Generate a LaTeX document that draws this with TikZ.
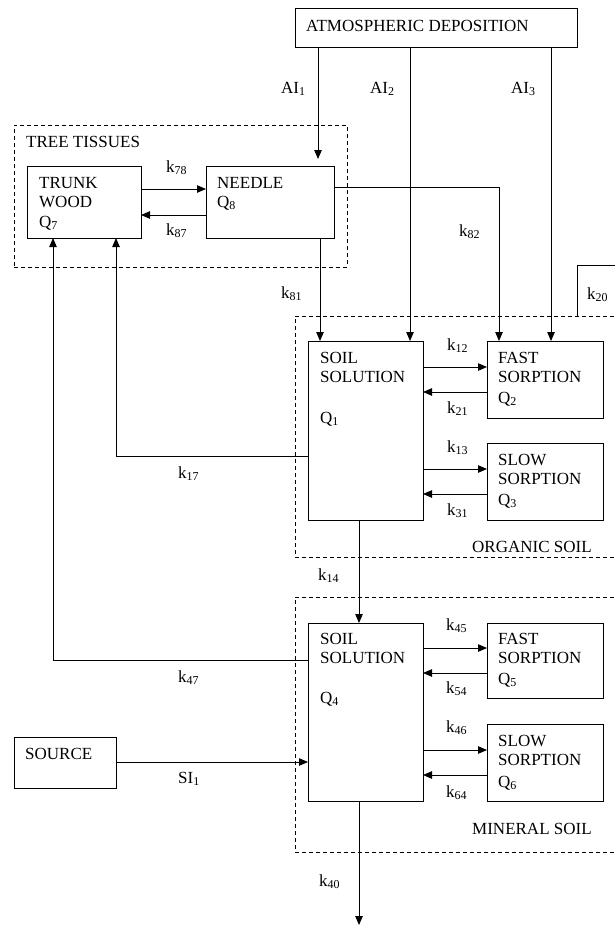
\documentclass[tikz,border=0pt]{standalone}
\usepackage{fontspec}
\setmainfont{Liberation Serif}
\usetikzlibrary{arrows.meta,calc}
\newcommand{\sbx}[1]{\raisebox{-2pt}{\fontsize{12}{12}\selectfont #1}}
\begin{document}
\begin{tikzpicture}[x=1pt,y=-1pt,
  box/.style={draw, line width=0.8pt, rectangle, inner sep=0pt, outer sep=0pt, anchor=north west},
  grp/.style={draw, line width=0.7pt, dash pattern=on 4pt off 3pt, rectangle, inner sep=0pt, outer sep=0pt, anchor=north west},
  txt/.style={anchor=base west, inner sep=0pt, font=\fontsize{17}{19}\selectfont},
  arr/.style={line width=0.8pt, -{Triangle[length=9pt,width=7.5pt]}},
  ln/.style={line width=0.8pt}]
\useasboundingbox (0,0) rectangle (614,926);
% groups
\node[grp, minimum width=333pt, minimum height=142pt] (tree) at (14,125) {};
\node[grp, minimum width=340pt, minimum height=241pt] (organic) at (295,316) {};
\node[grp, minimum width=340pt, minimum height=255pt] (mineral) at (295,597) {};
% boxes
\node[box, fill=white, minimum width=282pt, minimum height=39pt] (atm) at (295,8) {};
\node[box, minimum width=114pt, minimum height=72pt] (trunk) at (27,166) {};
\node[box, minimum width=128pt, minimum height=72pt] (needle) at (206,166) {};
\node[box, minimum width=115pt, minimum height=179pt] (sol1) at (308,341) {};
\node[box, minimum width=116pt, minimum height=77pt] (fast1) at (487,341) {};
\node[box, minimum width=116pt, minimum height=77pt] (slow1) at (487,443) {};
\node[box, minimum width=115pt, minimum height=178pt] (sol2) at (308,623) {};
\node[box, minimum width=116pt, minimum height=75pt] (fast2) at (487,623) {};
\node[box, minimum width=116pt, minimum height=77pt] (slow2) at (487,724) {};
\node[box, minimum width=102pt, minimum height=51pt] (source) at (14,737) {};
\coordinate (k20end) at (630,265);
\coordinate (sink) at (359,925);
% connectors
\draw[arr] ($(atm.south west)+(23,0)$) -- ($(needle.north east)+(-16,-7)$);
\draw[arr] ($(atm.south west)+(115,0)$) -- ($(sol1.north west)+(102,0)$);
\draw[arr] ($(atm.south west)+(256,0)$) -- ($(fast1.north west)+(64,0)$);
\draw[arr] ($(trunk.north east)+(0,23)$) -- ($(needle.north west)+(0,23)$);
\draw[arr] ($(needle.north west)+(0,49)$) -- ($(trunk.north east)+(0,49)$);
\draw[arr] ($(needle.south west)+(114,0)$) -- ($(sol1.north west)+(12,0)$);
\draw[arr] ($(needle.north east)+(0,21)$) -| ($(fast1.north west)+(12,0)$);
\draw[ln] ($(organic.north west)+(282,0)$) |- (k20end);
\draw[arr] ($(sol1.north east)+(0,26)$) -- ($(fast1.north west)+(0,26)$);
\draw[arr] ($(fast1.north west)+(0,51)$) -- ($(sol1.north east)+(0,51)$);
\draw[arr] ($(sol1.north east)+(0,128)$) -- ($(slow1.north west)+(0,26)$);
\draw[arr] ($(slow1.north west)+(0,51)$) -- ($(sol1.north east)+(0,153)$);
\draw[arr] ($(sol1.north west)+(0,115)$) -| ($(trunk.south west)+(89,0)$);
\draw[arr] ($(sol1.south west)+(51,0)$) -- ($(sol2.north west)+(51,0)$);
\draw[arr] ($(sol2.north east)+(0,25)$) -- ($(fast2.north west)+(0,25)$);
\draw[arr] ($(fast2.north west)+(0,50)$) -- ($(sol2.north east)+(0,50)$);
\draw[arr] ($(sol2.north east)+(0,127)$) -- ($(slow2.north west)+(0,26)$);
\draw[arr] ($(slow2.north west)+(0,51)$) -- ($(sol2.north east)+(0,152)$);
\draw[arr] ($(sol2.north west)+(0,37)$) -| ($(trunk.south west)+(26,0)$);
\draw[arr] ($(source.north east)+(0,25)$) -- ($(sol2.north west)+(0,139)$);
\draw[arr] ($(sol2.south west)+(51,0)$) -- (sink);
% texts
\node[txt] (tatm) at (306,31) {ATMOSPHERIC DEPOSITION};
\node[txt] (tai1) at (281,93) {AI\sbx{1}};
\node[txt] (tai2) at (370,93) {AI\sbx{2}};
\node[txt] (tai3) at (511,93) {AI\sbx{3}};
\node[txt] (ttree) at (26,147) {TREE TISSUES};
\node[txt] (ttr1) at (39,188) {TRUNK};
\node[txt] (ttr2) at (39,207) {WOOD};
\node[txt] (ttr3) at (39,227) {Q\sbx{7}};
\node[txt] (tne1) at (217,188) {NEEDLE};
\node[txt] (tne2) at (217,207) {Q\sbx{8}};
\node[txt] (tk78) at (166,172) {k\sbx{78}};
\node[txt] (tk87) at (166,235) {k\sbx{87}};
\node[txt] (tk81) at (281,298) {k\sbx{81}};
\node[txt] (tk82) at (459,236) {k\sbx{82}};
\node[txt] (tk20) at (587,299) {k\sbx{20}};
\node[txt] (ts11) at (320,363) {SOIL};
\node[txt] (ts12) at (320,382) {SOLUTION};
\node[txt] (ts13) at (320,423) {Q\sbx{1}};
\node[txt] (tf11) at (498,363) {FAST};
\node[txt] (tf12) at (498,382) {SORPTION};
\node[txt] (tf13) at (498,403) {Q\sbx{2}};
\node[txt] (tl11) at (498,465) {SLOW};
\node[txt] (tl12) at (498,484) {SORPTION};
\node[txt] (tl13) at (498,505) {Q\sbx{3}};
\node[txt] (tk12) at (447,350) {k\sbx{12}};
\node[txt] (tk21) at (447,413) {k\sbx{21}};
\node[txt] (tk13) at (447,452) {k\sbx{13}};
\node[txt] (tk31) at (447,515) {k\sbx{31}};
\node[txt] (tk17) at (178,478) {k\sbx{17}};
\node[txt] (torg) at (472,552) {ORGANIC SOIL};
\node[txt] (tk14) at (318,580) {k\sbx{14}};
\node[txt] (ts21) at (320,644) {SOIL};
\node[txt] (ts22) at (320,663) {SOLUTION};
\node[txt] (ts23) at (320,703) {Q\sbx{4}};
\node[txt] (tf21) at (498,644) {FAST};
\node[txt] (tf22) at (498,663) {SORPTION};
\node[txt] (tf23) at (498,684) {Q\sbx{5}};
\node[txt] (tl21) at (498,746) {SLOW};
\node[txt] (tl22) at (498,765) {SORPTION};
\node[txt] (tl23) at (498,787) {Q\sbx{6}};
\node[txt] (tk45) at (446,630) {k\sbx{45}};
\node[txt] (tk54) at (446,693) {k\sbx{54}};
\node[txt] (tk46) at (446,732) {k\sbx{46}};
\node[txt] (tk64) at (446,797) {k\sbx{64}};
\node[txt] (tk47) at (178,682) {k\sbx{47}};
\node[txt] (tsrc) at (25,759) {SOURCE};
\node[txt] (tsi1) at (178,783) {SI\sbx{1}};
\node[txt] (tk40) at (319,886) {k\sbx{40}};
\node[txt] (tmin) at (472,834) {MINERAL SOIL};
\end{tikzpicture}
\end{document}
